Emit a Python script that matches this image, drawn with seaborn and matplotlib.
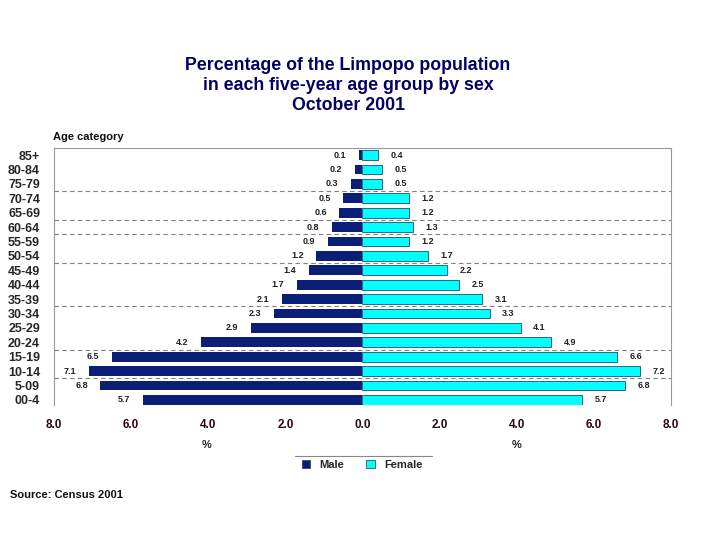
import matplotlib
matplotlib.use("Agg")
import matplotlib.pyplot as plt
import seaborn as sns
import pandas as pd
from matplotlib.lines import Line2D
from matplotlib.patches import Patch
from matplotlib.ticker import FuncFormatter

ages = ["85+", "80-84", "75-79", "70-74", "65-69", "60-64", "55-59", "50-54", "45-49",
        "40-44", "35-39", "30-34", "25-29", "20-24", "15-19", "10-14", "5-09", "00-4"]
male = [0.1, 0.2, 0.3, 0.5, 0.6, 0.8, 0.9, 1.2, 1.4, 1.7, 2.1, 2.3, 2.9, 4.2, 6.5, 7.1, 6.8, 5.7]
female = [0.4, 0.5, 0.5, 1.2, 1.2, 1.3, 1.2, 1.7, 2.2, 2.5, 3.1, 3.3, 4.1, 4.9, 6.6, 7.2, 6.8, 5.7]
x_ticks = [-8, -6, -4, -2, 0, 2, 4, 6, 8]
sep_after = ["75-79", "65-69", "60-64", "50-54", "35-39", "20-24", "10-14"]

male_color = "#0b1f78"
female_color = "#00ffff"

sns.set_theme(style="white")
plt.rcParams['font.family'] = ['Liberation Sans', 'DejaVu Sans']

df = pd.concat([
    pd.DataFrame({"age": ages, "value": [-v for v in male], "sex": "Male"}),
    pd.DataFrame({"age": ages, "value": female, "sex": "Female"}),
])

fig = plt.figure(figsize=(7.2, 5.4), dpi=100)
ax = fig.add_axes([54 / 720, 1 - 405 / 540, (671 - 54) / 720, (405 - 148) / 540])

sns.barplot(data=df, x="value", y="age", hue="sex", order=ages, hue_order=["Male", "Female"],
            palette={"Male": male_color, "Female": female_color}, dodge=False, saturation=1,
            orient="h", width=0.68, ax=ax, legend=False, linewidth=0)

ax.set_xlim(-8, 8)
ax.set_ylim(len(ages) - 0.65, -0.5)

for p in ax.containers[1]:
    p.set_edgecolor("#1f4f6a")
    p.set_linewidth(0.6)

ax.bar_label(ax.containers[0], labels=[f"{v:.1f}" for v in male], padding=9,
             fontsize=6.5, fontweight="bold", color="#222222")
ax.bar_label(ax.containers[1], labels=[f"{v:.1f}" for v in female], padding=9,
             fontsize=6.5, fontweight="bold", color="#222222")

for a in sep_after:
    i = ages.index(a)
    ax.axhline(i + 0.5, color="#808080", linestyle=(0, (4, 3)), linewidth=0.8, zorder=5)

ax.set_xticks(x_ticks)
ax.xaxis.set_major_formatter(FuncFormatter(lambda v, p: f"{abs(v):.1f}"))
ax.tick_params(axis="x", length=0, pad=10, labelsize=8.5, labelcolor="#2b0a0a")
ax.tick_params(axis="y", length=0, pad=10, labelsize=9)
for t in ax.get_xticklabels() + ax.get_yticklabels():
    t.set_fontweight("bold")
ax.set_xlabel("")
ax.set_ylabel("")

for s in ["left", "top", "right"]:
    ax.spines[s].set_color("#999999")
    ax.spines[s].set_linewidth(0.8)
ax.spines["bottom"].set_visible(False)

for y, line in [(65, "Percentage of the Limpopo population"),
                (85, "in each five-year age group by sex"),
                (105, "October 2001")]:
    fig.text(348 / 720, 1 - y / 540, line, ha="center", va="center",
             fontsize=12.8, fontweight="bold", color="#000066")

fig.text(53 / 720, 1 - 137 / 540, "Age category", ha="left", va="center",
         fontsize=8, fontweight="bold", color="#111111")

fig.text(207 / 720, 1 - 445 / 540, "%", ha="center", va="center", fontsize=8, fontweight="bold")
fig.text(517 / 720, 1 - 445 / 540, "%", ha="center", va="center", fontsize=8, fontweight="bold")

fig.add_artist(Line2D([295 / 720, 432 / 720], [1 - 456 / 540, 1 - 456 / 540],
                      color="#888888", linewidth=0.8))
handles = [Patch(facecolor=male_color, edgecolor="#333333", linewidth=0.5, label="Male"),
           Patch(facecolor=female_color, edgecolor="#333333", linewidth=0.5, label="Female")]
leg = fig.legend(handles=handles, loc="center", bbox_to_anchor=(362 / 720, 1 - 465 / 540),
                 ncol=2, frameon=False, fontsize=8, handlelength=0.8, handleheight=0.8,
                 columnspacing=2.0, handletextpad=0.8)
for t in leg.get_texts():
    t.set_fontweight("bold")

fig.text(10 / 720, 1 - 495 / 540, "Source: Census 2001", ha="left", va="center",
         fontsize=8, fontweight="bold", color="#111111")

fig.savefig("out.png", dpi=100)
